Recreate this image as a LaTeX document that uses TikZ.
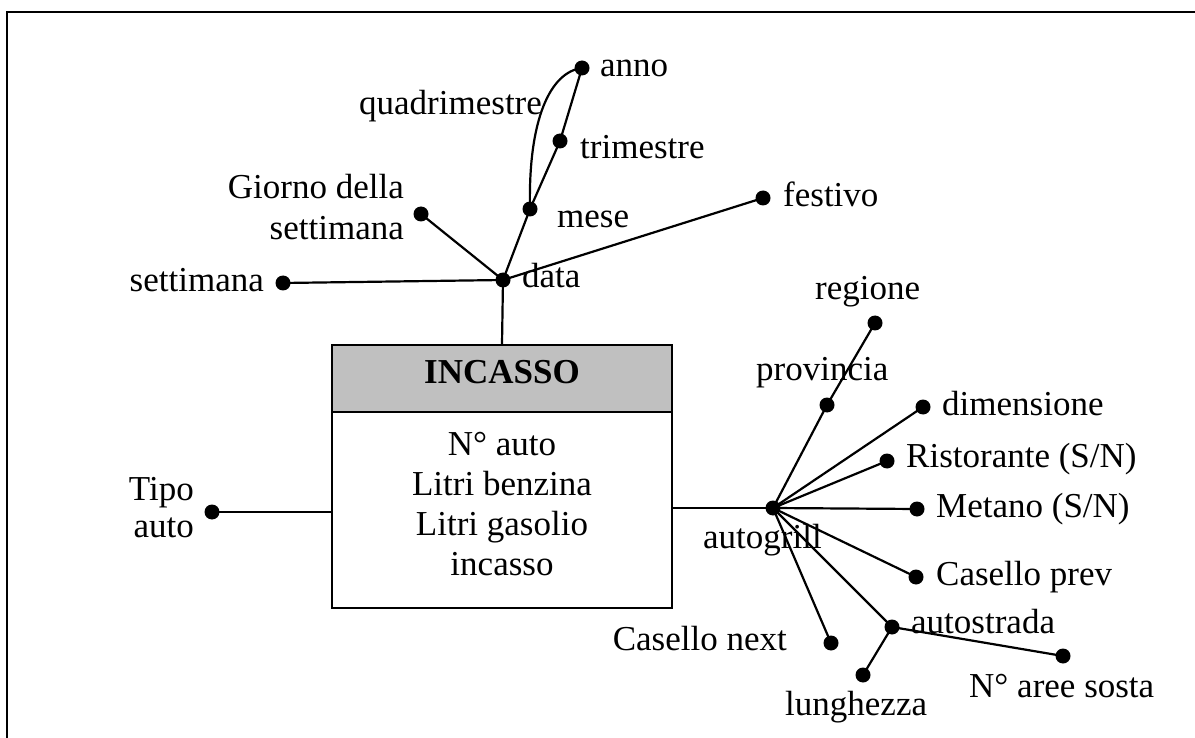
\documentclass[tikz,border=0pt]{standalone}
\usepackage{fontspec}
\setmainfont{Liberation Serif}
\definecolor{headgray}{HTML}{C0C0C0}
\tikzset{
  dot/.style={circle, fill=black, inner sep=0pt, minimum size=15pt},
  lbl/.style={inner sep=0pt, font=\fontsize{35}{40}\selectfont},
  conn/.style={line width=2.2pt},
  entbox/.style={draw, line width=2.2pt, inner sep=0pt, minimum width=340pt}
}
\begin{document}
\begin{tikzpicture}[x=1pt,y=-1pt]
\useasboundingbox (0,0) rectangle (1195,738);
% outer frame
\draw[line width=2.5pt] (7,738) -- (7,12) -- (1195,12);

% entity box
\node[entbox, fill=headgray, minimum height=67pt] (head) at (502,378.5) {};
\node[entbox, minimum height=196pt] (body) at (502,510) {};
\node[lbl, anchor=base] (headtxt) at (502,383) {\bfseries INCASSO};
\node[lbl, anchor=base] (m1) at (502,455) {N° auto};
\node[lbl, anchor=base] (m2) at (502,495) {Litri benzina};
\node[lbl, anchor=base] (m3) at (502,535) {Litri gasolio};
\node[lbl, anchor=base] (m4) at (502,575) {incasso};

% date hierarchy
\node[dot] (data) at (503,280) {};
\node[dot] (sett) at (283,283) {};
\node[dot] (giorno) at (421,214) {};
\node[dot] (mese) at (530,209) {};
\node[dot] (trim) at (560,141) {};
\node[dot] (anno) at (582,68) {};
\node[dot] (fest) at (763,198) {};

\node[lbl, anchor=base west] (tdata) at (522,288) {data};
\node[lbl, anchor=base east] (tsett) at (264,292) {settimana};
\node[lbl, anchor=base east] (tgio1) at (404,199) {Giorno della};
\node[lbl, anchor=base east] (tgio2) at (404,240) {settimana};
\node[lbl, anchor=base west] (tmese) at (557,228) {mese};
\node[lbl, anchor=base west] (ttrim) at (580,159) {trimestre};
\node[lbl, anchor=base west] (tanno) at (600,77) {anno};
\node[lbl, anchor=base west] (tquad) at (359,115) {quadrimestre};
\node[lbl, anchor=base west] (tfest) at (783,207) {festivo};

\draw[conn] (head.north) -- (data.center);
\draw[conn] (sett.center) -- (data.center);
\draw[conn] (giorno.center) -- (data.center);
\draw[conn] (data.center) -- (mese.center);
\draw[conn] (mese.center) -- (trim.center);
\draw[conn] (trim.center) -- (anno.center);
\draw[conn] (mese.center) .. controls (528,120) and (550,72) .. (anno.center);
\draw[conn] (data.center) -- (fest.center);

% tipo auto
\node[dot] (tipo) at (212,512) {};
\node[lbl, anchor=base east] (ttipo1) at (194,500) {Tipo};
\node[lbl, anchor=base east] (ttipo2) at (194,537) {auto};
\draw[conn] (tipo.center) -- (body.west |- tipo.center);

% autogrill hierarchy
\node[dot] (auto) at (773,508) {};
\node[dot] (prov) at (827,405) {};
\node[dot] (reg) at (875,323) {};
\node[dot] (dim) at (923,407) {};
\node[dot] (rist) at (887,461) {};
\node[dot] (met) at (917,509) {};
\node[dot] (cprev) at (916,577) {};
\node[dot] (cnext) at (831,643) {};
\node[dot] (astr) at (892,627) {};
\node[dot] (lung) at (863,675) {};
\node[dot] (aree) at (1063,656) {};

\node[lbl, anchor=base west] (tauto) at (703,548) {autogrill};
\node[lbl, anchor=base west] (tprov) at (756,380) {provincia};
\node[lbl, anchor=base west] (treg) at (815,300) {regione};
\node[lbl, anchor=base west] (tdim) at (942,415) {dimensione};
\node[lbl, anchor=base west] (trist) at (906,467) {Ristorante (S/N)};
\node[lbl, anchor=base west] (tmet) at (936,517) {Metano (S/N)};
\node[lbl, anchor=base west] (tcprev) at (936,585) {Casello prev};
\node[lbl, anchor=base east] (tcnext) at (787,650) {Casello next};
\node[lbl, anchor=base west] (tastr) at (911,633) {autostrada};
\node[lbl, anchor=base west] (taree) at (969,697) {N° aree sosta};
\node[lbl, anchor=base west] (tlung) at (785,715) {lunghezza};

\draw[conn] (body.east |- auto.center) -- (auto.center);
\draw[conn] (auto.center) -- (prov.center) -- (reg.center);
\draw[conn] (auto.center) -- (dim.center);
\draw[conn] (auto.center) -- (rist.center);
\draw[conn] (auto.center) -- (met.center);
\draw[conn] (auto.center) -- (cprev.center);
\draw[conn] (auto.center) -- (cnext.center);
\draw[conn] (auto.center) -- (astr.center);
\draw[conn] (astr.center) -- (lung.center);
\draw[conn] (astr.center) -- (aree.center);
\end{tikzpicture}
\end{document}
